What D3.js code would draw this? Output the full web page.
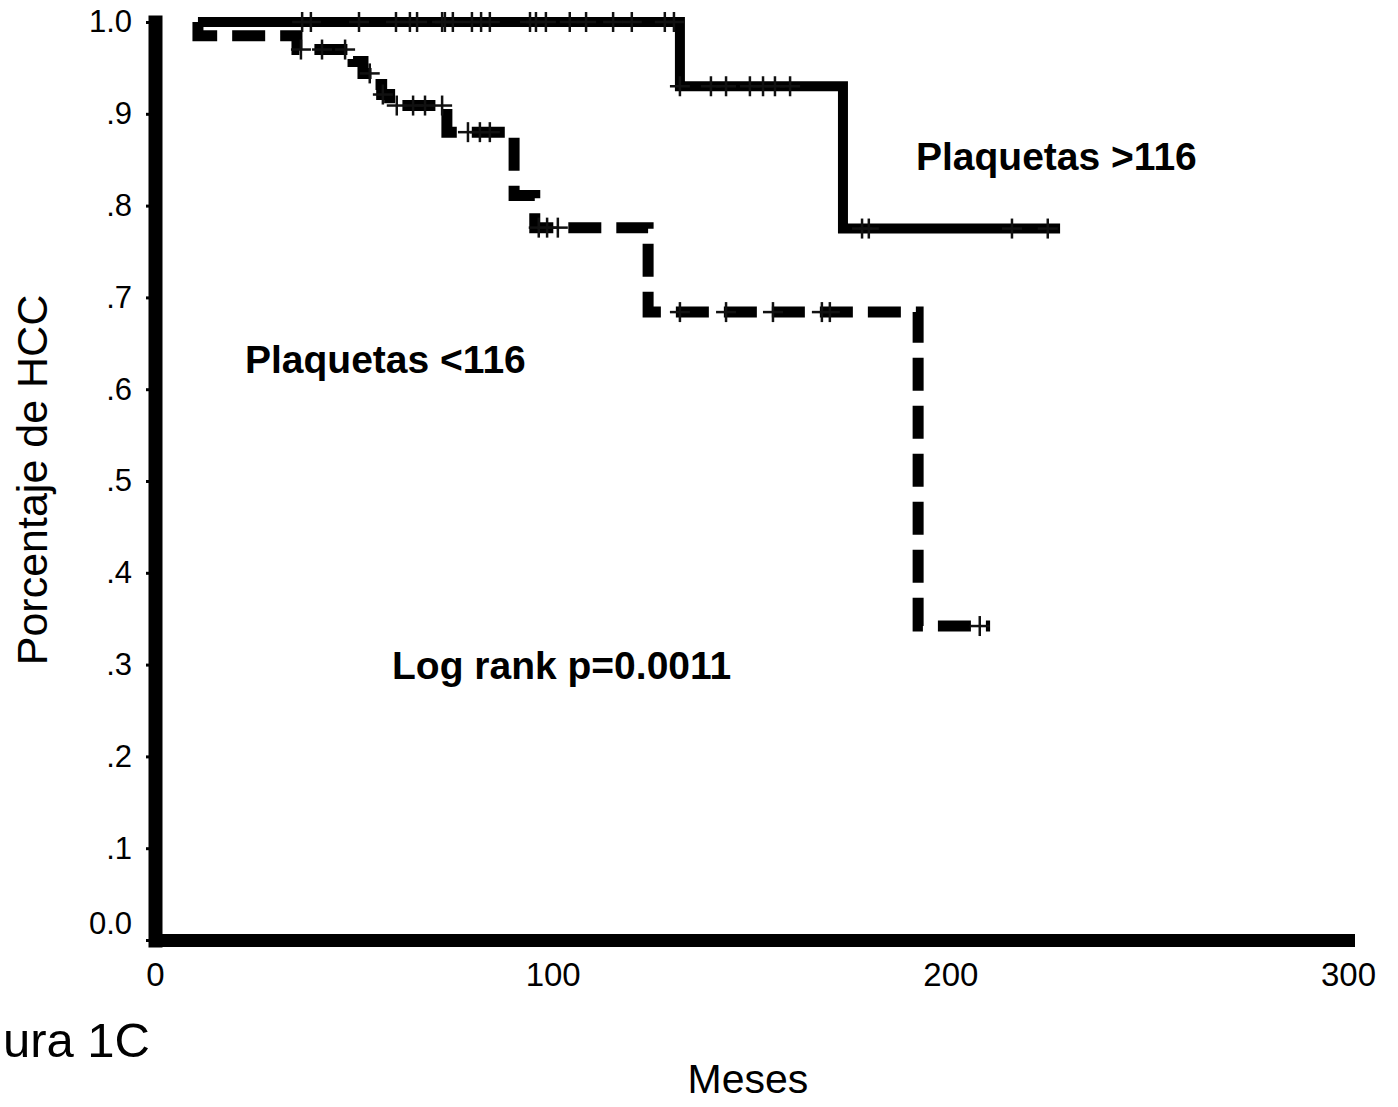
<!DOCTYPE html>
<html lang="es">
<head>
    <meta charset="UTF-8">
    <title>Porcentaje de HCC - Plaquetas</title>
    <script src="https://d3js.org/d3.v7.min.js"></script>
    <style>
        body { margin: 0; background: #fff; }
        svg { display: block; font-family: "Liberation Sans", Arial, sans-serif; }
    </style>
</head>
<body>
    <svg id="kmChart" width="1398" height="1107"></svg>

    <script>
        // Kaplan-Meier steps (months, survival after the step)
        const highTimes = [10.8, 132.0, 173.0, 227.6];
        const highSurv  = [1.0, 0.930, 0.775, 0.775];

        const lowTimes = [10.8, 10.8, 35.7, 49.8, 52.3, 54.8, 57.0, 59.0, 73.4, 90.3, 95.5, 124.0, 191.9, 210.0];
        const lowSurv  = [1.0, 0.985, 0.970, 0.957, 0.944, 0.932, 0.921, 0.909, 0.880, 0.811, 0.776, 0.684, 0.342, 0.342];

        // censored observations (months)
        const highCensor = [37.0, 39.2, 51.3, 60.6, 64.1, 65.9, 72.2, 72.9, 74.9, 79.7, 82.0, 84.2,
                            94.3, 95.8, 98.3, 104.3, 108.4, 115.2, 119.9, 128.2, 130.5,
                            132.0, 139.8, 143.6, 149.6, 152.9, 155.9, 159.7,
                            177.8, 179.5, 215.5, 224.5];
        const lowCensor = [36.7, 42.0, 47.8, 54.0, 57.3, 60.8, 64.9, 67.9, 72.2, 78.7, 81.7, 84.2,
                           96.5, 98.6, 101.3, 132.0, 143.6, 155.4, 167.7, 169.7, 207.4];

        const yTicks = [0, 0.1, 0.2, 0.3, 0.4, 0.5, 0.6, 0.7, 0.8, 0.9, 1.0];
        const xTicks = [0, 100, 200, 300];

        const svg = d3.select('#kmChart');

        const x = d3.scaleLinear().domain([0, 300]).range([155, 1348]);
        const y = d3.scaleLinear().domain([0, 1]).range([940, 22]);

        const toPoints = (times, surv) => times.map((t, i) => ({ t: t, s: surv[i] }));
        const survAt = (times, surv, t) => {
            let s = surv[0];
            times.forEach((tt, i) => { if (tt <= t) s = surv[i]; });
            return s;
        };

        const stepLine = d3.line()
            .x(d => x(d.t))
            .y(d => y(d.s))
            .curve(d3.curveStepAfter);

        // solid curve: Plaquetas >116
        svg.append('path')
            .attr('fill', 'none')
            .attr('stroke', '#000')
            .attr('stroke-width', 10)
            .attr('stroke-linejoin', 'miter')
            .attr('d', stepLine(toPoints(highTimes, highSurv)));

        // dashed curve: Plaquetas <116
        svg.append('path')
            .attr('fill', 'none')
            .attr('stroke', '#000')
            .attr('stroke-width', 11)
            .attr('stroke-dasharray', '33,15')
            .attr('stroke-linejoin', 'miter')
            .attr('d', stepLine(toPoints(lowTimes, lowSurv)));

        // censor marks (+)
        const censorData = highCensor.map(t => ({ t: t, s: survAt(highTimes, highSurv, t) }))
            .concat(lowCensor.map(t => ({ t: t, s: survAt(lowTimes, lowSurv, t) })));

        const marks = svg.append('g')
            .attr('stroke', '#111')
            .attr('stroke-width', 2.5);

        marks.selectAll('.cv').data(censorData).enter().append('line')
            .attr('class', 'cv')
            .attr('x1', d => x(d.t)).attr('x2', d => x(d.t))
            .attr('y1', d => y(d.s) - 10).attr('y2', d => y(d.s) + 10);

        marks.selectAll('.ch').data(censorData).enter().append('line')
            .attr('class', 'ch')
            .attr('x1', d => x(d.t) - 10).attr('x2', d => x(d.t) + 10)
            .attr('y1', d => y(d.s)).attr('y2', d => y(d.s));

        // y axis
        const gY = svg.append('g')
            .attr('transform', `translate(${x(0)},0)`)
            .call(d3.axisLeft(y)
                .tickValues(yTicks)
                .tickSize(9)
                .tickSizeOuter(0)
                .tickPadding(14)
                .tickFormat(d => d === 0 ? '0.0' : d === 1 ? '1.0' : d3.format('.1f')(d).replace('0.', '.')));
        gY.select('.domain').attr('stroke-width', 14).attr('stroke-linecap', 'square');
        gY.selectAll('.tick line').attr('stroke-width', 3);
        gY.selectAll('.tick text')
            .attr('font-size', 31)
            .attr('font-family', '"Liberation Sans", Arial, sans-serif')
            .attr('fill', '#000');
        gY.selectAll('.tick').filter(d => d === 0).select('text').attr('dy', '-0.2em');

        // x axis
        const gX = svg.append('g')
            .attr('transform', `translate(0,${y(0)})`)
            .call(d3.axisBottom(x)
                .tickValues(xTicks)
                .tickSize(0)
                .tickSizeOuter(0)
                .tickPadding(23)
                .tickFormat(d3.format('d')));
        gX.select('.domain').attr('stroke-width', 13).attr('stroke-linecap', 'square');
        gX.selectAll('.tick text')
            .attr('font-size', 33)
            .attr('font-family', '"Liberation Sans", Arial, sans-serif')
            .attr('fill', '#000');

        // axis titles
        svg.append('text')
            .attr('transform', 'translate(47,480) rotate(-90)')
            .attr('text-anchor', 'middle')
            .attr('font-size', 43)
            .text('Porcentaje de HCC');

        svg.append('text')
            .attr('x', 748).attr('y', 1093)
            .attr('text-anchor', 'middle')
            .attr('font-size', 41)
            .text('Meses');

        // caption, clipped at the left edge in the scan
        svg.append('text')
            .attr('x', 150).attr('y', 1057)
            .attr('text-anchor', 'end')
            .attr('font-size', 49)
            .text('ura 1C');

        // annotations
        const notes = [
            { label: 'Plaquetas >116', x: 916, y: 170 },
            { label: 'Plaquetas <116', x: 245, y: 373 },
            { label: 'Log rank p=0.0011', x: 392, y: 679 }
        ];
        svg.selectAll('.note').data(notes).enter().append('text')
            .attr('class', 'note')
            .attr('x', d => d.x).attr('y', d => d.y)
            .attr('font-size', 39)
            .attr('font-weight', 'bold')
            .text(d => d.label);
    </script>
</body>
</html>
